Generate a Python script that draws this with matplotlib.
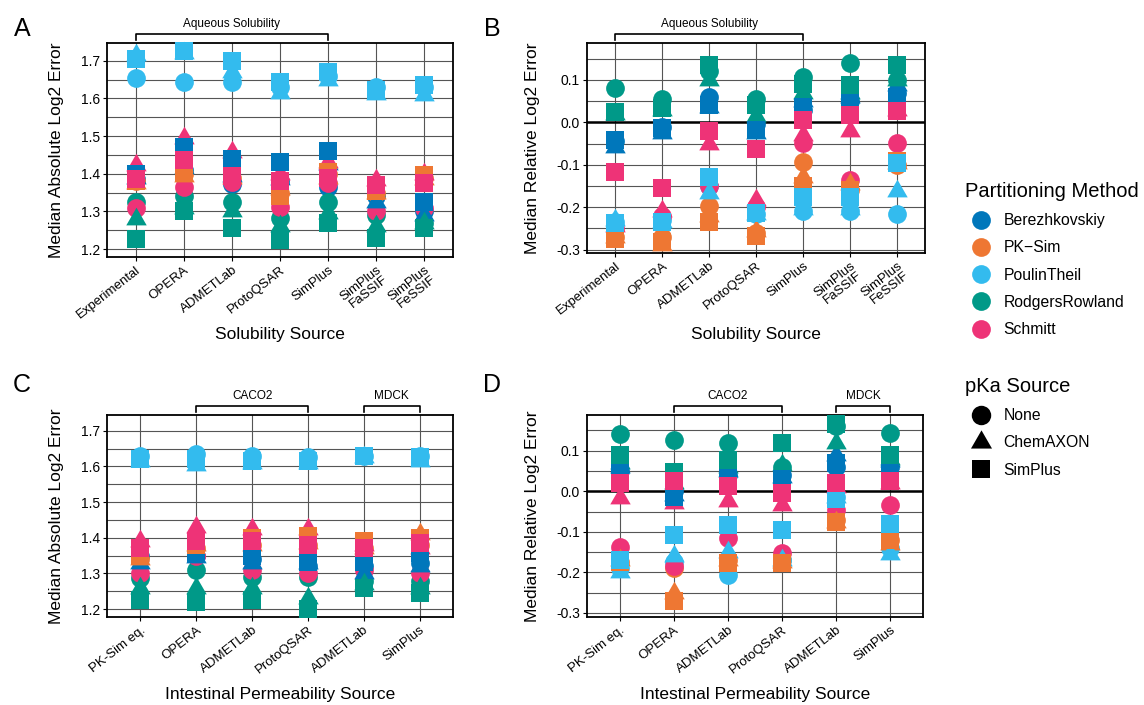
import matplotlib
matplotlib.use("Agg")
import matplotlib.pyplot as plt
from matplotlib.lines import Line2D
import matplotlib.transforms as mtransforms
import numpy as np

plt.rcParams['font.family'] = ['Liberation Sans', 'DejaVu Sans']

# ---------------- data ----------------
sol_cats = ["Experimental", "OPERA", "ADMETLab", "ProtoQSAR", "SimPlus",
            "SimPlus\nFaSSIF", "SimPlus\nFeSSIF"]
perm_cats = ["PK-Sim eq.", "OPERA", "ADMETLab", "ProtoQSAR", "ADMETLab", "SimPlus"]

methods = ["Berezhkovskiy", "PK\u2212Sim", "PoulinTheil", "RodgersRowland", "Schmitt"]
method_colors = ["#0077BB", "#EE7733", "#33BBEE", "#009988", "#EE3377"]
pka_sources = ["None", "ChemAXON", "SimPlus"]

# panel A: median absolute log2 error, solubility source
a_berez_none = [1.385, 1.41, 1.372, 1.38, 1.365, 1.34, 1.30]
a_berez_chem = [1.39, 1.415, 1.395, 1.385, 1.425, 1.326, 1.29]
a_berez_simp = [1.40, 1.47, 1.44, 1.43, 1.46, 1.366, 1.325]
a_pksim_none = [1.38, 1.40, 1.39, 1.35, 1.40, 1.35, 1.39]
a_pksim_chem = [1.375, 1.395, 1.39, 1.36, 1.39, 1.35, 1.385]
a_pksim_simp = [1.38, 1.405, 1.395, 1.342, 1.404, 1.355, 1.397]
a_poulin_none = [1.653, 1.644, 1.644, 1.63, 1.66, 1.631, 1.63]
a_poulin_chem = [1.715, 1.72, 1.671, 1.615, 1.648, 1.612, 1.61]
a_poulin_simp = [1.705, 1.725, 1.70, 1.643, 1.669, 1.622, 1.635]
a_rodgers_none = [1.326, 1.34, 1.326, 1.282, 1.326, 1.29, 1.27]
a_rodgers_chem = [1.28, 1.31, 1.30, 1.26, 1.295, 1.26, 1.27]
a_rodgers_simp = [1.226, 1.30, 1.256, 1.225, 1.27, 1.23, 1.257]
a_schmitt_none = [1.309, 1.366, 1.379, 1.313, 1.375, 1.30, 1.31]
a_schmitt_chem = [1.424, 1.494, 1.459, 1.40, 1.43, 1.384, 1.40]
a_schmitt_simp = [1.385, 1.437, 1.395, 1.38, 1.39, 1.37, 1.375]

# panel B: median relative log2 error, solubility source
b_berez_none = [-0.045, -0.01, 0.059, -0.005, 0.03, 0.05, 0.07]
b_berez_chem = [-0.057, -0.025, 0.035, -0.025, 0.05, 0.06, 0.088]
b_berez_simp = [-0.042, -0.014, 0.04, -0.018, 0.037, 0.052, 0.06]
b_pksim_none = [-0.27, -0.27, -0.198, -0.26, -0.093, -0.16, -0.10]
b_pksim_chem = [-0.27, -0.29, -0.22, -0.255, -0.13, -0.145, -0.095]
b_pksim_simp = [-0.275, -0.281, -0.234, -0.269, -0.15, -0.16, -0.09]
b_poulin_none = [-0.235, -0.23, -0.15, -0.215, -0.21, -0.21, -0.216]
b_poulin_chem = [-0.23, -0.235, -0.167, -0.215, -0.205, -0.205, -0.163]
b_poulin_simp = [-0.238, -0.234, -0.128, -0.214, -0.175, -0.175, -0.096]
b_rodgers_none = [0.080, 0.056, 0.12, 0.056, 0.106, 0.14, 0.10]
b_rodgers_chem = [0.02, 0.03, 0.10, 0.015, 0.07, 0.07, 0.10]
b_rodgers_simp = [0.025, 0.033, 0.135, 0.04, 0.09, 0.088, 0.135]
b_schmitt_none = [-0.25, -0.22, -0.15, -0.20, -0.049, -0.136, -0.048]
b_schmitt_chem = [-0.245, -0.21, -0.05, -0.183, -0.03, -0.02, 0.03]
b_schmitt_simp = [-0.118, -0.155, -0.02, -0.063, 0.005, 0.017, 0.027]

# panel C: median absolute log2 error, permeability source
c_berez_none = [1.35, 1.35, 1.34, 1.32, 1.32, 1.33]
c_berez_chem = [1.33, 1.345, 1.33, 1.33, 1.30, 1.32]
c_berez_simp = [1.36, 1.354, 1.35, 1.333, 1.333, 1.356]
c_pksim_none = [1.34, 1.37, 1.38, 1.38, 1.37, 1.38]
c_pksim_chem = [1.34, 1.38, 1.38, 1.385, 1.37, 1.41]
c_pksim_simp = [1.35, 1.38, 1.40, 1.405, 1.39, 1.40]
c_poulin_none = [1.63, 1.635, 1.628, 1.625, 1.63, 1.628]
c_poulin_chem = [1.615, 1.605, 1.61, 1.61, 1.625, 1.615]
c_poulin_simp = [1.622, 1.62, 1.615, 1.615, 1.63, 1.625]
c_rodgers_none = [1.286, 1.31, 1.29, 1.29, 1.28, 1.28]
c_rodgers_chem = [1.26, 1.26, 1.26, 1.232, 1.27, 1.26]
c_rodgers_simp = [1.225, 1.22, 1.225, 1.20, 1.258, 1.244]
c_schmitt_none = [1.30, 1.35, 1.31, 1.30, 1.31, 1.30]
c_schmitt_chem = [1.39, 1.43, 1.425, 1.425, 1.38, 1.37]
c_schmitt_simp = [1.37, 1.39, 1.39, 1.38, 1.37, 1.385]

# panel D: median relative log2 error, permeability source
d_berez_none = [0.05, 0.0, 0.04, 0.04, 0.06, 0.06]
d_berez_chem = [0.06, -0.01, 0.05, 0.035, 0.09, 0.075]
d_berez_simp = [0.055, -0.013, 0.04, 0.03, 0.07, 0.06]
d_pksim_none = [-0.175, -0.19, -0.17, -0.17, -0.07, -0.12]
d_pksim_chem = [-0.17, -0.25, -0.17, -0.175, -0.075, -0.13]
d_pksim_simp = [-0.175, -0.27, -0.178, -0.178, -0.077, -0.12]
d_poulin_none = [-0.19, -0.175, -0.206, -0.17, -0.015, -0.14]
d_poulin_chem = [-0.20, -0.16, -0.15, -0.17, -0.015, -0.155]
d_poulin_simp = [-0.17, -0.108, -0.083, -0.095, -0.02, -0.08]
d_rodgers_none = [0.142, 0.127, 0.118, 0.06, 0.16, 0.143]
d_rodgers_chem = [0.07, 0.02, 0.06, 0.065, 0.12, 0.08]
d_rodgers_simp = [0.09, 0.048, 0.077, 0.118, 0.165, 0.09]
d_schmitt_none = [-0.137, -0.185, -0.116, -0.153, -0.045, -0.035]
d_schmitt_chem = [-0.017, -0.03, -0.025, -0.035, 0.01, 0.02]
d_schmitt_simp = [0.02, 0.025, 0.012, -0.005, 0.02, 0.025]

panel_a = [[a_berez_none, a_berez_chem, a_berez_simp],
           [a_pksim_none, a_pksim_chem, a_pksim_simp],
           [a_poulin_none, a_poulin_chem, a_poulin_simp],
           [a_rodgers_none, a_rodgers_chem, a_rodgers_simp],
           [a_schmitt_none, a_schmitt_chem, a_schmitt_simp]]
panel_b = [[b_berez_none, b_berez_chem, b_berez_simp],
           [b_pksim_none, b_pksim_chem, b_pksim_simp],
           [b_poulin_none, b_poulin_chem, b_poulin_simp],
           [b_rodgers_none, b_rodgers_chem, b_rodgers_simp],
           [b_schmitt_none, b_schmitt_chem, b_schmitt_simp]]
panel_c = [[c_berez_none, c_berez_chem, c_berez_simp],
           [c_pksim_none, c_pksim_chem, c_pksim_simp],
           [c_poulin_none, c_poulin_chem, c_poulin_simp],
           [c_rodgers_none, c_rodgers_chem, c_rodgers_simp],
           [c_schmitt_none, c_schmitt_chem, c_schmitt_simp]]
panel_d = [[d_berez_none, d_berez_chem, d_berez_simp],
           [d_pksim_none, d_pksim_chem, d_pksim_simp],
           [d_poulin_none, d_poulin_chem, d_poulin_simp],
           [d_rodgers_none, d_rodgers_chem, d_rodgers_simp],
           [d_schmitt_none, d_schmitt_chem, d_schmitt_simp]]

# ---------------- styling ----------------
tri = [(-1.0, -0.577), (1.0, -0.577), (0.0, 1.155)]
pka_markers = ["o", tri, "s"]
pka_sizes = [13.5, 17.0, 13.0]

W, H = 1144, 705
fig = plt.figure(figsize=(W / 100, H / 100), dpi=100)


def px_axes(left, top, right, bottom):
    return fig.add_axes([left / W, 1 - bottom / H, (right - left) / W, (bottom - top) / H])


def draw_panel(ax, cats, data, ylim, yticks, minor, zero_line=False):
    n = len(cats)
    x = np.arange(n)
    ax.set_xlim(-0.6, n - 1 + 0.6)
    ax.set_ylim(*ylim)
    ax.set_xticks(x)
    ax.set_xticklabels(cats, rotation=38, ha="right", rotation_mode="anchor",
                       fontsize=9.5, linespacing=0.95)
    ax.set_yticks(yticks)
    ax.set_yticklabels(["%.1f" % t for t in yticks], fontsize=10)
    ax.set_yticks(minor, minor=True)
    ax.tick_params(axis="y", which="minor", length=0)
    ax.tick_params(which="major", length=3, width=0.8, pad=2)
    ax.grid(True, which="both", color="#555555", linewidth=0.8)
    ax.set_axisbelow(True)
    for s in ax.spines.values():
        s.set_linewidth(1.3)
    if zero_line:
        ax.axhline(0, color="black", linewidth=1.8, zorder=1.5)
    # circles first, then triangles, then squares
    for k in range(3):
        for m in range(5):
            ax.plot(x, data[m][k], linestyle="none", marker=pka_markers[k],
                    markersize=pka_sizes[k], color=method_colors[m],
                    markeredgewidth=0, zorder=3, clip_on=False)


def bracket(ax, x0, x1, label, top_px):
    # bracket above the panel, y in pixels relative to panel top
    trans = mtransforms.blended_transform_factory(ax.transData, fig.transFigure)
    yh = 1 - (top_px - 9) / H
    yt = 1 - (top_px - 3) / H
    ax.plot([x0, x0, x1, x1], [yt, yh, yh, yt], color="black", linewidth=1.2,
            transform=trans, clip_on=False)
    ax.text((x0 + x1) / 2, 1 - (top_px - 19) / H, label, transform=trans,
            ha="center", va="center", fontsize=8.5)


ax_a = px_axes(107, 43, 453, 257)
ax_b = px_axes(587, 43, 925, 253)
ax_c = px_axes(107, 415, 453, 617)
ax_d = px_axes(587, 415, 923, 617)

abs_ticks = [1.2, 1.3, 1.4, 1.5, 1.6, 1.7]
abs_minor = [1.2, 1.25, 1.3, 1.35, 1.4, 1.45, 1.5, 1.55, 1.6, 1.65, 1.7]
rel_ticks = [-0.3, -0.2, -0.1, 0.0, 0.1]
rel_minor = [-0.3, -0.25, -0.2, -0.15, -0.1, -0.05, 0.0, 0.05, 0.1, 0.15]

draw_panel(ax_a, sol_cats, panel_a, (1.179, 1.747), abs_ticks, abs_minor)
draw_panel(ax_b, sol_cats, panel_b, (-0.308, 0.187), rel_ticks, rel_minor, zero_line=True)
draw_panel(ax_c, perm_cats, panel_c, (1.178, 1.744), abs_ticks, abs_minor)
draw_panel(ax_d, perm_cats, panel_d, (-0.31, 0.188), rel_ticks, rel_minor, zero_line=True)

bracket(ax_a, 0, 4, "Aqueous Solubility", 43)
bracket(ax_b, 0, 4, "Aqueous Solubility", 43)
bracket(ax_c, 1, 3, "CACO2", 415)
bracket(ax_c, 4, 5, "MDCK", 415)
bracket(ax_d, 1, 3, "CACO2", 415)
bracket(ax_d, 4, 5, "MDCK", 415)

# axis labels and panel letters
lab_fs = 12.5
fig.text(57 / W, 1 - 150 / H, "Median Absolute Log2 Error", rotation=90,
         ha="center", va="center", fontsize=lab_fs)
fig.text(533 / W, 1 - 148 / H, "Median Relative Log2 Error", rotation=90,
         ha="center", va="center", fontsize=lab_fs)
fig.text(57 / W, 1 - 516 / H, "Median Absolute Log2 Error", rotation=90,
         ha="center", va="center", fontsize=lab_fs)
fig.text(533 / W, 1 - 516 / H, "Median Relative Log2 Error", rotation=90,
         ha="center", va="center", fontsize=lab_fs)
fig.text(280 / W, 1 - 334 / H, "Solubility Source", ha="center", va="center", fontsize=lab_fs)
fig.text(756 / W, 1 - 334 / H, "Solubility Source", ha="center", va="center", fontsize=lab_fs)
fig.text(280 / W, 1 - 695 / H, "Intestinal Permeability Source", ha="center",
         va="center", fontsize=lab_fs)
fig.text(755 / W, 1 - 695 / H, "Intestinal Permeability Source", ha="center",
         va="center", fontsize=lab_fs)
for letter, lx, ly in [("A", 22, 29), ("B", 492, 29), ("C", 22, 385), ("D", 492, 385)]:
    fig.text(lx / W, 1 - ly / H, letter, ha="center", va="center", fontsize=18)

# legends
meth_handles = [Line2D([], [], linestyle="none", marker="o", markersize=13.5,
                       color=c, markeredgewidth=0) for c in method_colors]
leg1 = fig.legend(meth_handles, methods, title="Partitioning Method",
                  loc="upper left", bbox_to_anchor=(965 / W, 1 - 182 / H),
                  frameon=False, fontsize=11.3, title_fontsize=14.5,
                  handletextpad=0.45, labelspacing=0.78, alignment="left",
                  borderaxespad=0, borderpad=0)
pka_handles = [Line2D([], [], linestyle="none", marker=pka_markers[k],
                      markersize=pka_sizes[k] + 0.5, color="black", markeredgewidth=0)
               for k in range(3)]
leg2 = fig.legend(pka_handles, pka_sources, title="pKa Source",
                  loc="upper left", bbox_to_anchor=(965 / W, 1 - 377 / H),
                  frameon=False, fontsize=11.3, title_fontsize=14.5,
                  handletextpad=0.45, labelspacing=0.78, alignment="left",
                  borderaxespad=0, borderpad=0)

fig.savefig("out.png", dpi=100)
